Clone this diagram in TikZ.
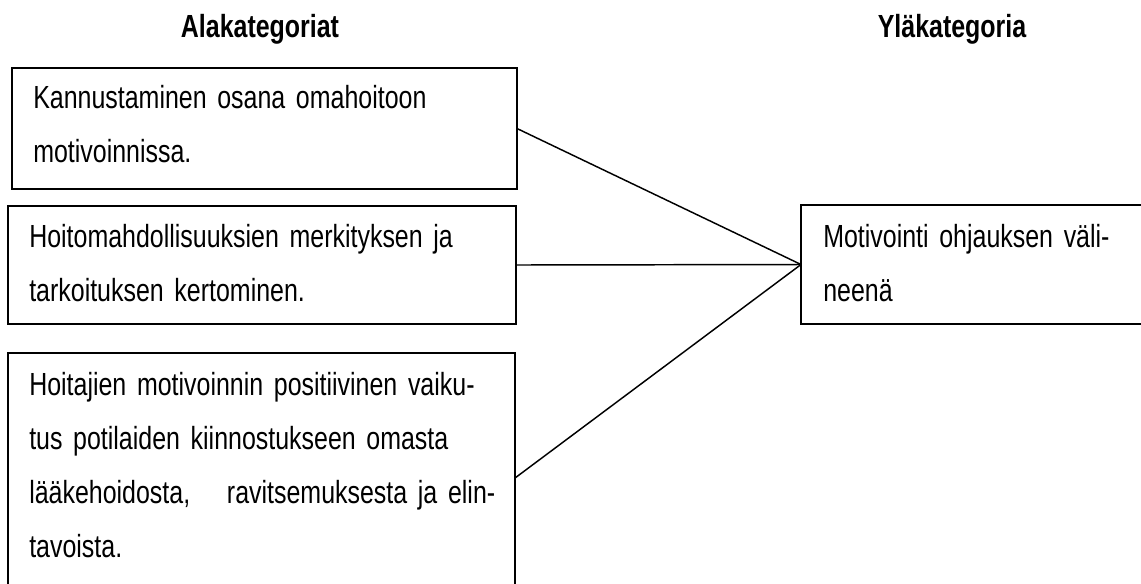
\documentclass[tikz,border=0pt]{standalone}
\usepackage{fontspec}
\newfontfamily\narrow[FakeStretch=0.78]{Liberation Sans}
\begin{document}
\begin{tikzpicture}[x=0.75pt,y=-0.75pt,
  box/.style={draw=black, line width=1.1pt, rectangle, inner sep=0pt, outer sep=0pt, anchor=north west},
  txt/.style={inner sep=0pt, anchor=base west, align=left, font=\narrow\fontsize{24}{40.5}\selectfont},
  head/.style={inner sep=0pt, anchor=base, font=\narrow\bfseries\fontsize{24}{27}\selectfont},
  conn/.style={draw=black, line width=1.1pt}]
\useasboundingbox (0,0) rectangle (1141,583);
\clip (0,0) rectangle (1141,583);
\fill[white] (0,0) rectangle (1141,583);
% headings
\node[head] (h1) at (260,37) {Alakategoriat};
\node[head] (h2) at (952,37) {Yläkategoria};
% boxes
\node[box, minimum width=378.75pt, minimum height=90.75pt] (b1) at (12,68) {};
\node[box, minimum width=381pt, minimum height=88.5pt] (b2) at (8,206) {};
\node[box, minimum width=380.25pt, minimum height=187.5pt] (b3) at (8,353) {};
\node[box, minimum width=261.75pt, minimum height=89.25pt] (r) at (801,205) {};
% texts
\node[txt, text width=349.5pt] (t1) at (33,108) {Kannustaminen osana omahoitoon\\motivoinnissa.};
\node[txt, text width=349.5pt] (t2) at (29,247) {\makebox[\linewidth][s]{Hoitomahdollisuuksien merkityksen ja}\\tarkoituksen kertominen.};
\node[txt, text width=349.5pt] (t3) at (29,395) {\makebox[\linewidth][s]{Hoitajien motivoinnin positiivinen vaiku-}\\\makebox[\linewidth][s]{tus potilaiden kiinnostukseen omasta}\\\makebox[\linewidth][s]{lääkehoidosta,\hfill ravitsemuksesta ja elin-}\\tavoista.};
\node[txt, text width=228.75pt] (t4) at (823,247) {\makebox[\linewidth][s]{Motivointi ohjauksen väli-}\\neenä};
% connectors
\draw[conn] (b1.east) -- (r.west);
\draw[conn] (b2.east) -- (r.west);
\draw[conn] (b3.east) -- (r.west);
\end{tikzpicture}
\end{document}
